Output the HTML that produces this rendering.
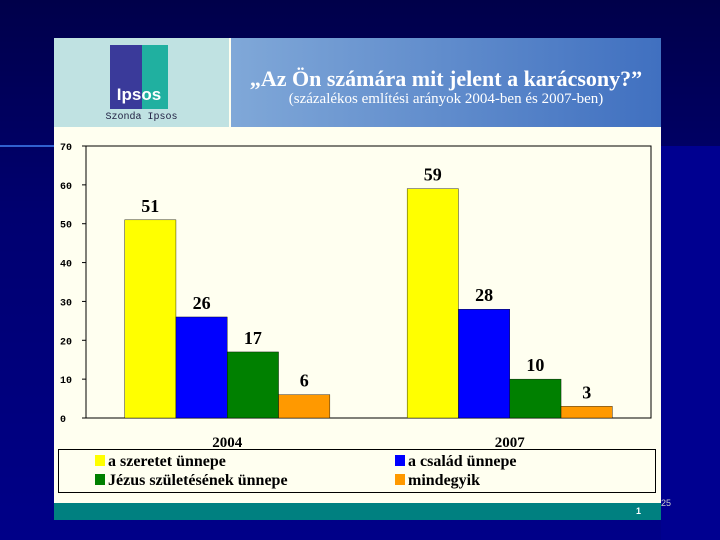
<!DOCTYPE html>
<html><head><meta charset="utf-8"><style>
body{margin:0;width:720px;height:540px;overflow:hidden;background:linear-gradient(180deg,#00004a 0%,#000070 40%,#000088 100%);font-family:"Liberation Serif",serif;position:relative}
.abs{position:absolute}
</style></head><body>
<div class="abs" style="left:0;top:145px;width:54px;height:2px;background:#3060d0"></div>
<div class="abs" style="left:661px;top:146px;width:59px;height:394px;background:#000090"></div>
<div class="abs" style="left:54px;top:38px;width:607px;height:482px;background:#fffff0">
 <div class="abs" style="left:0;top:0;width:175px;height:89px;background:#c0e2e2">
  <div class="abs" style="left:56px;top:7px;width:58px;height:64px;background:linear-gradient(90deg,#3a3a9a 55%,#20b0a0 55%);color:#fff;font:bold 17px 'Liberation Sans',sans-serif;text-align:center;line-height:100px">Ipsos</div>
  <div class="abs" style="left:0;width:175px;top:74px;text-align:center;font:10px 'Liberation Mono',monospace;color:#224">Szonda Ipsos</div>
 </div>
 <div class="abs" style="left:177px;top:0;width:430px;height:89px;background:linear-gradient(90deg,#80a8d8,#4070c0)">
  <div class="abs" style="left:0;width:430px;top:28px;text-align:center;color:#fff;font:bold 22px 'Liberation Serif',serif">„Az Ön számára mit jelent a karácsony?”</div>
  <div class="abs" style="left:0;width:430px;top:53px;text-align:center;color:#fff;font:15px 'Liberation Serif',serif">(százalékos említési arányok 2004-ben és 2007-ben)</div>
 </div>
 <div class="abs" style="left:0;top:465px;width:607px;height:17px;background:#008080"><span style="position:absolute;right:20px;top:3px;color:#fff;font:bold 9px 'Liberation Sans',sans-serif">1</span></div>
</div>
<div class="abs" style="left:661px;top:498px;color:#ccc;font:9px 'Liberation Sans',sans-serif">25</div>
<svg class="abs" style="left:0;top:0" width="720" height="540" id="chart"></svg>
<div class="abs" style="left:58px;top:449px;width:596px;height:42px;border:1px solid #000;background:#fffff0;font:bold 16px 'Liberation Serif',serif">
 <div class="abs" style="left:36px;top:3px"><span style="display:inline-block;width:10px;height:11px;background:#ffff00;margin-right:3px"></span>a szeretet ünnepe</div>
 <div class="abs" style="left:336px;top:3px"><span style="display:inline-block;width:10px;height:11px;background:#0000ff;margin-right:3px"></span>a család ünnepe</div>
 <div class="abs" style="left:36px;top:22px"><span style="display:inline-block;width:10px;height:11px;background:#008000;margin-right:3px"></span>Jézus születésének ünnepe</div>
 <div class="abs" style="left:336px;top:22px"><span style="display:inline-block;width:10px;height:11px;background:#ff9900;margin-right:3px"></span>mindegyik</div>
</div>
<script>
const categories=["2004","2007"];
const seriesNames=["a szeretet ünnepe","a család ünnepe","Jézus születésének ünnepe","mindegyik"];
const szeretet=[51,59];
const csalad=[26,28];
const jezus=[17,10];
const mindegyik=[6,3];
const yTicks=[0,10,20,30,40,50,60,70];
const colors=["#ffff00","#0000ff","#008000","#ff9900"];
const series=[szeretet,csalad,jezus,mindegyik];
const svg=document.getElementById('chart');const NS='http://www.w3.org/2000/svg';
const X0=86,X1=651,Y0=418,Y1=146,YMAX=70;
const y=v=>Y0-(v/YMAX)*(Y0-Y1);
const groupW=(X1-X0)/categories.length;
const barW=51.3;
const xBar=(ci,si)=>X0+groupW*(ci+0.5)-2*barW+si*barW;
function mk(t,a,p){const e=document.createElementNS(NS,t);for(const k in a)e.setAttribute(k,a[k]);(p||svg).appendChild(e);return e;}
const frame=mk('rect',{x:X0,y:Y1,width:X1-X0,height:Y0-Y1,fill:'none',stroke:'#000','stroke-width':1});


yTicks.forEach(t=>{
 const l=mk('line',{x1:X0-4,x2:X0,y1:y(t),y2:y(t),stroke:'#000'});
 
 
 const tx=mk('text',{x:60,y:y(t)+4,'font-size':10,'font-weight':'bold','font-family':'Liberation Mono, monospace'});tx.textContent=t;
 
 
});
categories.forEach((c,ci)=>{
 series.forEach((s,si)=>{
  const r=mk('rect',{x:xBar(ci,si),y:y(s[ci]),width:barW,height:Y0-y(s[ci]),fill:colors[si],stroke:'#000','stroke-width':0.4});
  
  
  const tx=mk('text',{x:xBar(ci,si)+barW/2,y:y(s[ci])-8,'font-size':18,'font-weight':'bold','font-family':'Liberation Serif, serif','text-anchor':'middle'});
  tx.textContent=s[ci];
  
  
 });
 const cl=mk('text',{x:X0+groupW*(ci+0.5),y:447,'font-size':15,'font-weight':'bold','font-family':'Liberation Serif, serif','text-anchor':'middle'});cl.textContent=c;
 
 
});
</script>
</body></html>
